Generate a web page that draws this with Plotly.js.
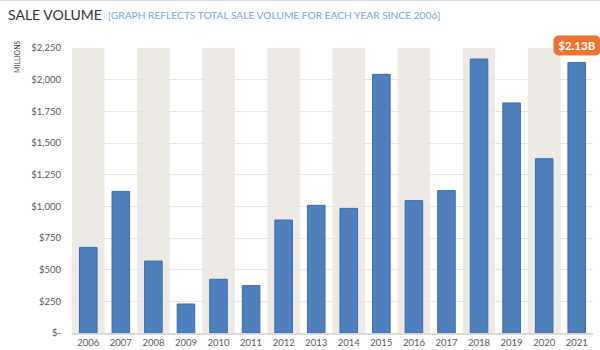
<!DOCTYPE html>
<html>
<head>
<meta charset="utf-8">
<script src="https://cdn.plot.ly/plotly-3.0.1.min.js"></script>
<style>
html,body{margin:0;padding:0;background:#fff;}
#chart{width:600px;height:350px;}
</style>
</head>
<body>
<div id="chart"></div>
<script>
const years = ['2006','2007','2008','2009','2010','2011','2012','2013','2014','2015','2016','2017','2018','2019','2020','2021'];
const saleVolume = [676, 1118, 568, 229, 424, 374, 892, 1008, 984, 2042, 1045, 1124, 2163, 1816, 1376, 2135];
const tickValues = [0, 250, 500, 750, 1000, 1250, 1500, 1750, 2000, 2250];
const tickLabels = ['$-', '$250', '$500', '$750', '$1,000', '$1,250', '$1,500', '$1,750', '$2,000', '$2,250'];
const calloutText = '$2.13B';

const FONT = 'Lato, "Open Sans", sans-serif';

const shapes = [];
years.forEach((y, i) => {
  if (i % 2 === 0) {
    shapes.push({type:'rect', xref:'x', yref:'paper', x0:i-0.5, x1:i+0.5, y0:0, y1:1,
      fillcolor:'#edeae5', line:{width:0}, layer:'below'});
  }
});
shapes.push({type:'line', xref:'paper', yref:'paper', x0:-0.2, x1:1.02, y0:1.168, y1:1.168,
  line:{color:'#c8c8c8', width:1}});

const last = years.length - 1;

const layout = {
  width:600, height:350,
  margin:{l:72, r:7, t:48, b:17, pad:0},
  paper_bgcolor:'#ffffff', plot_bgcolor:'rgba(0,0,0,0)',
  showlegend:false,
  bargap:0.46,
  title:{text:'SALE VOLUME', x:8/600, xref:'container', xanchor:'left', y:1-15/350, yref:'container', yanchor:'middle',
    font:{family:FONT, size:14, color:'#333333'}},
  xaxis:{type:'category', range:[-0.5, years.length-0.5], autorange:false, showgrid:false, zeroline:false,
    showline:true, linecolor:'#d9d9d9', linewidth:2,
    ticks:'', tickfont:{family:FONT, size:9.5, color:'#595959'}, fixedrange:true, automargin:false},
  yaxis:{range:[0,2250], autorange:false, tickvals:tickValues, ticktext:tickLabels, showgrid:true, gridcolor:'#e6e6e6', gridwidth:1,
    zeroline:false, showline:false, ticks:'', ticklabelstandoff:10, tickfont:{family:FONT, size:9.5, color:'#595959'},
    fixedrange:true, automargin:false},
  shapes:shapes,
  annotations:[
    {text:'[GRAPH REFLECTS TOTAL SALE VOLUME FOR EACH YEAR SINCE 2006]', xref:'paper', yref:'paper',
     x:(106-72)/521, y:1+(48-15)/285, xanchor:'left', yanchor:'middle', showarrow:false,
     font:{family:FONT, size:10.2, color:'#7ba7d4'}},
    {text:'MILLIONS', xref:'paper', yref:'paper', x:(17-72)/521, y:1-(57-48)/285, textangle:-90,
     xanchor:'center', yanchor:'middle', showarrow:false, font:{family:FONT, size:7, color:'#404040'}},
    {text:'<b>'+calloutText+'</b>', xref:'x', yref:'y', x:last, y:saleVolume[last],
     xanchor:'center', yanchor:'bottom', yshift:7, showarrow:false, bgcolor:'#ed7430',
     borderpad:3, width:40, font:{family:FONT, size:11.5, color:'#ffffff'}}
  ]
};

const trace = {
  type:'bar', x:years, y:saleVolume,
  marker:{color:'#4f80bc', line:{color:'#3b6cae', width:1}},
  hoverinfo:'x+y'
};

Plotly.newPlot('chart', [trace], layout, {displayModeBar:false, staticPlot:true}).then(() => {
  document.querySelectorAll('.annotation rect.bg').forEach(r => { r.setAttribute('rx', 5); r.setAttribute('ry', 5); });
});
</script>
</body>
</html>
